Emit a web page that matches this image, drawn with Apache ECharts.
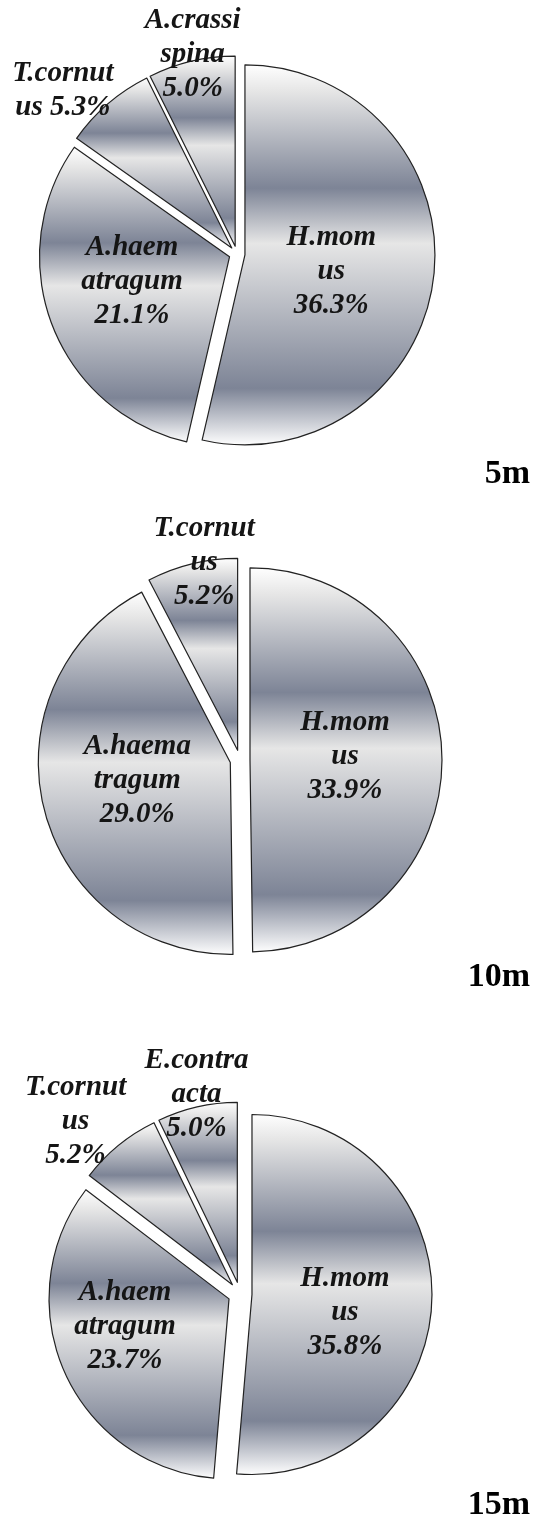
<!DOCTYPE html>
<html><head><meta charset="utf-8">
<script src="https://cdn.jsdelivr.net/npm/echarts@6/dist/echarts.min.js"></script>
<style>html,body{margin:0;padding:0;background:#fff}#c{width:539px;height:1533px}</style>
</head><body><div id="c"></div>
<script>
// ---- data ----
const depths = ['5m', '10m', '15m'];
const names5 = ['H.mom\nus', 'A.haem\natragum', 'T.cornut\nus', 'A.crassi\nspina'];
const values5 = [36.3, 21.1, 5.3, 5.0];
const names10 = ['H.mom\nus', 'A.haema\ntragum', 'T.cornut\nus'];
const values10 = [33.9, 29.0, 5.2];
const names15 = ['H.mom\nus', 'A.haem\natragum', 'T.cornut\nus', 'E.contra\nacta'];
const values15 = [35.8, 23.7, 5.2, 5.0];

// ---- styling (label joins / offsets, layout) ----
const joins5 = ['\n', '\n', ' ', '\n'];
const joins10 = ['\n', '\n', '\n'];
const joins15 = ['\n', '\n', '\n', '\n'];
const off5 = [[-11, 5], [-6, -10], [-105, -83], [-20, -96]];
const off10 = [[-4, -3], [3, -6], [-10, -92]];
const off15 = [[0, 14], [-19, -10], [-98, -91], [-20, -97]];
const layouts = [
  { center: [237, 254], radius: 190, offset: 8 },
  { center: [240, 760], radius: 192, offset: 10 },
  { center: [240, 1294], radius: 180, offset: 12 }
];
const titleTops = [457, 960, 1488];

const silver = new echarts.graphic.LinearGradient(0, 0, 0, 1, [
  { offset: 0, color: '#ffffff' },
  { offset: 0.07, color: '#e6e6e6' },
  { offset: 0.325, color: '#7d8496' },
  { offset: 0.47, color: '#e6e6e6' },
  { offset: 0.85, color: '#7d8496' },
  { offset: 1, color: '#ffffff' }
]);

const font = "'Liberation Serif', 'Times New Roman', serif";

function makeSeries(names, values, joins, offs, lay) {
  return {
    type: 'pie',
    center: lay.center,
    radius: lay.radius,
    startAngle: 90,
    clockwise: true,
    selectedMode: 'multiple',
    selectedOffset: lay.offset,
    avoidLabelOverlap: false,
    animation: false,
    silent: true,
    emphasis: { disabled: true },
    itemStyle: { color: silver, borderColor: '#222222', borderWidth: 1.2 },
    label: {
      show: true,
      position: 'inside',
      fontFamily: font,
      fontStyle: 'italic',
      fontWeight: 'bold',
      fontSize: 29,
      lineHeight: 34,
      color: '#151515',
      align: 'center',
      formatter: p => p.name + joins[p.dataIndex] + p.value.toFixed(1) + '%'
    },
    labelLine: { show: false },
    labelLayout: p => ({ dx: offs[p.dataIndex][0], dy: offs[p.dataIndex][1] }),
    data: names.map((n, i) => ({ name: n, value: values[i], selected: true }))
  };
}

const chart = echarts.init(document.getElementById('c'), null, { renderer: 'canvas' });
chart.setOption({
  backgroundColor: '#ffffff',
  animation: false,
  title: depths.map((d, i) => ({
    text: d,
    right: 9,
    top: titleTops[i],
    padding: 0,
    textStyle: { fontFamily: font, fontWeight: 'bold', fontSize: 34, color: '#000' }
  })),
  series: [
    makeSeries(names5, values5, joins5, off5, layouts[0]),
    makeSeries(names10, values10, joins10, off10, layouts[1]),
    makeSeries(names15, values15, joins15, off15, layouts[2])
  ]
});
</script>
</body></html>
